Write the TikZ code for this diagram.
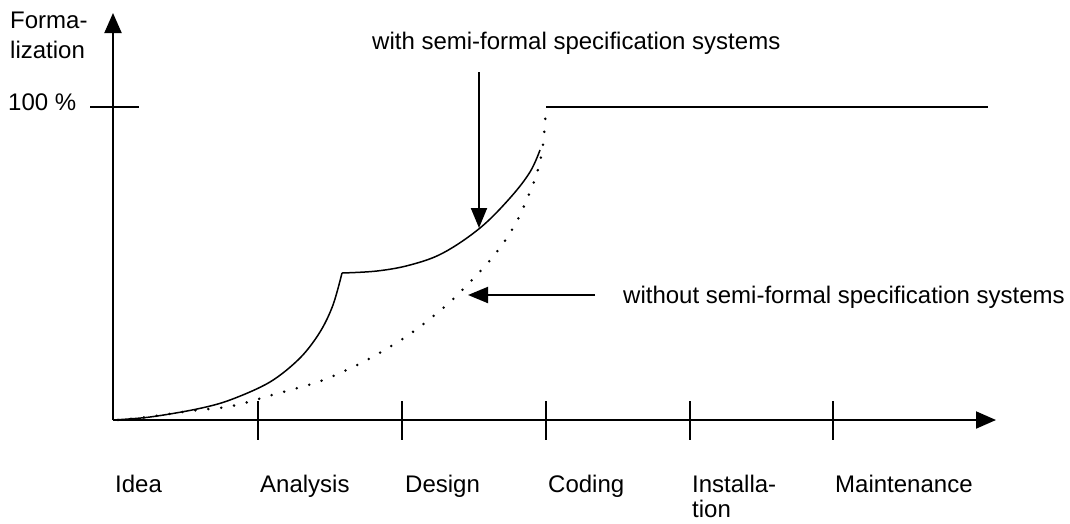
\documentclass[tikz,border=0pt]{standalone}
\usepackage{fontspec}
\setmainfont{Liberation Sans}
\usetikzlibrary{arrows.meta}
\begin{document}
\begin{tikzpicture}[x=1pt,y=-1pt]
\tikzset{
  axis/.style={line width=2pt, -{Triangle[length=20pt,width=17pt]}},
  tickmark/.style={line width=2pt},
  ptr/.style={line width=2pt, -{Triangle[length=20pt,width=16pt]}},
  withcurve/.style={line width=1.5pt, line join=round},
  dotcurve/.style={line width=2.8pt, line cap=round, dash pattern=on 0pt off 13pt},
  lab/.style={anchor=base west, inner sep=0pt, align=left, font=\fontsize{24}{25}\selectfont},
}
\useasboundingbox (0,0) rectangle (1070,523);

% axes
\coordinate (O) at (113,420);
\coordinate (ytip) at (113,13);
\coordinate (xtip) at (996,420);
\draw[axis] (O) -- (ytip);
\draw[axis] (O) -- (xtip);

% 100 % level mark and plateau
\coordinate (full-l) at (90,107);
\coordinate (full-r) at (139,107);
\draw[tickmark] (full-l) -- (full-r);
\coordinate (plat-l) at (546,107);
\coordinate (plat-r) at (988,107);
\draw[tickmark] (plat-l) -- (plat-r);

% phase ticks
\foreach \n/\x in {1/258,2/402,3/546,4/690,5/833}{
  \coordinate (t\n) at (\x,420);
  \draw[tickmark] (\x,401) -- (\x,440);
}

% axis labels (multi-line nodes sit on the baseline of their last line)
\node[lab, font=\fontsize{24}{30}\selectfont] (ylab) at (10,58) {Forma-\\lization};
\node[lab] (pct) at (8,110) {100 \%};

% phase labels
\node[lab] (idea) at (115,492) {Idea};
\node[lab] (analysis) at (260,492) {Analysis};
\node[lab] (design) at (405,492) {Design};
\node[lab] (coding) at (548,492) {Coding};
\node[lab] (install) at (692,517) {Installa-\\tion};
\node[lab] (maint) at (835,492) {Maintenance};

% curve labels
\node[lab] (with) at (372,49) {with semi-formal specification systems};
\node[lab] (without) at (623,303) {without semi-formal specification systems};

% pointers to the curves
\coordinate (w-tail) at (479,72);
\coordinate (w-tip) at (479,228);
\draw[ptr] (w-tail) -- (w-tip);
\coordinate (wo-tail) at (595,295);
\coordinate (wo-tip) at (468,295);
\draw[ptr] (wo-tail) -- (wo-tip);

% with semi-formal specification systems
\draw[withcurve] plot[smooth, tension=0.55] coordinates {
  (113,420) (150,417) (197,409) (230,400) (270,382) (300,358)
  (320,332) (333,305) (342,273)};
\draw[withcurve] plot[smooth, tension=0.6] coordinates {
  (342,273) (377,271) (410,265) (443,253) (480,228)
  (510,198) (530,172) (540,150)};

% without semi-formal specification systems
\draw[dotcurve] plot[smooth, tension=0.55] coordinates {
  (118,420) (148,417) (190,411) (232,406) (272,395) (315,383)
  (340,373) (365,361) (388,348) (410,334) (431,318) (450,302)
  (468,284) (486,265) (502,245) (516,223) (527,199) (537,173)
  (543,145) (546,107)};
\end{tikzpicture}
\end{document}
